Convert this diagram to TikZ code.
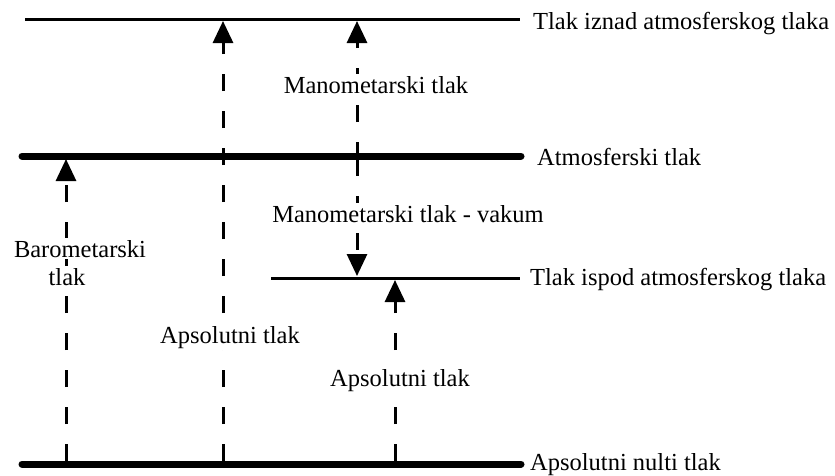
\documentclass[tikz,border=0pt]{standalone}
\usepackage{fontspec}
\setmainfont{Liberation Serif}
\usetikzlibrary{arrows.meta}
\tikzset{
  thinlevel/.style={line width=3pt},
  thicklevel/.style={line width=7pt, line cap=round},
  dasharrow/.style={line width=3pt, dash pattern=on 17pt off 20pt,
    -{Triangle[width=20pt,length=22pt]}},
  lbl/.style={font=\fontsize{24.5}{28}\selectfont, inner sep=0pt, anchor=base},
  lvl/.style={font=\fontsize{24.5}{28}\selectfont, inner sep=0pt, anchor=base west},
  cover/.style={lbl, fill=white, inner sep=2pt}
}
\begin{document}
\begin{tikzpicture}[x=1pt,y=-1pt]
\useasboundingbox (0,0) rectangle (835,475);
% level lines
\coordinate (topL) at (25,19);   \coordinate (topR) at (520,19);
\coordinate (atmL) at (22,156);  \coordinate (atmR) at (521,156);
\coordinate (lowL) at (271,278); \coordinate (lowR) at (520,278);
\coordinate (zerL) at (22,464);  \coordinate (zerR) at (521,464);
\draw[thinlevel] (topL) -- (topR);
\draw[thicklevel] (atmL) -- (atmR);
\draw[thinlevel] (lowL) -- (lowR);
\draw[thicklevel] (zerL) -- (zerR);
% level labels
\node[lvl] (tTop) at (533,29) {Tlak iznad atmosferskog tlaka};
\node[lvl] (tAtm) at (537,165) {Atmosferski tlak};
\node[lvl] (tLow) at (530,285) {Tlak ispod atmosferskog tlaka};
\node[lvl] (tZer) at (530,470) {Apsolutni nulti tlak};
% arrow end points
\coordinate (b0) at (66,461);  \coordinate (b1) at (66,159);
\coordinate (a0) at (223,461); \coordinate (a1) at (223,21);
\coordinate (m0) at (357,159); \coordinate (m1) at (357,21);
\coordinate (v0) at (357,159); \coordinate (v1) at (357,276);
\coordinate (p0) at (395,461); \coordinate (p1) at (395,280);
\draw[dasharrow] (b0) -- (b1);
\draw[dasharrow] (a0) -- (a1);
\draw[dasharrow] (m0) -- (m1);
\draw[dasharrow] (v0) -- (v1);
\draw[dasharrow] (p0) -- (p1);
% arrow labels
\node[cover] (lBar) at (80,257) {Barometarski};
\node[cover] (lBar2) at (67,285) {tlak};
\node[cover] (lAbs1) at (230,343) {Apsolutni tlak};
\node[cover] (lMan) at (376,93) {Manometarski tlak};
\node[cover] (lVak) at (408,222) {Manometarski tlak - vakum};
\node[cover] (lAbs2) at (400,386) {Apsolutni tlak};
\end{tikzpicture}
\end{document}
